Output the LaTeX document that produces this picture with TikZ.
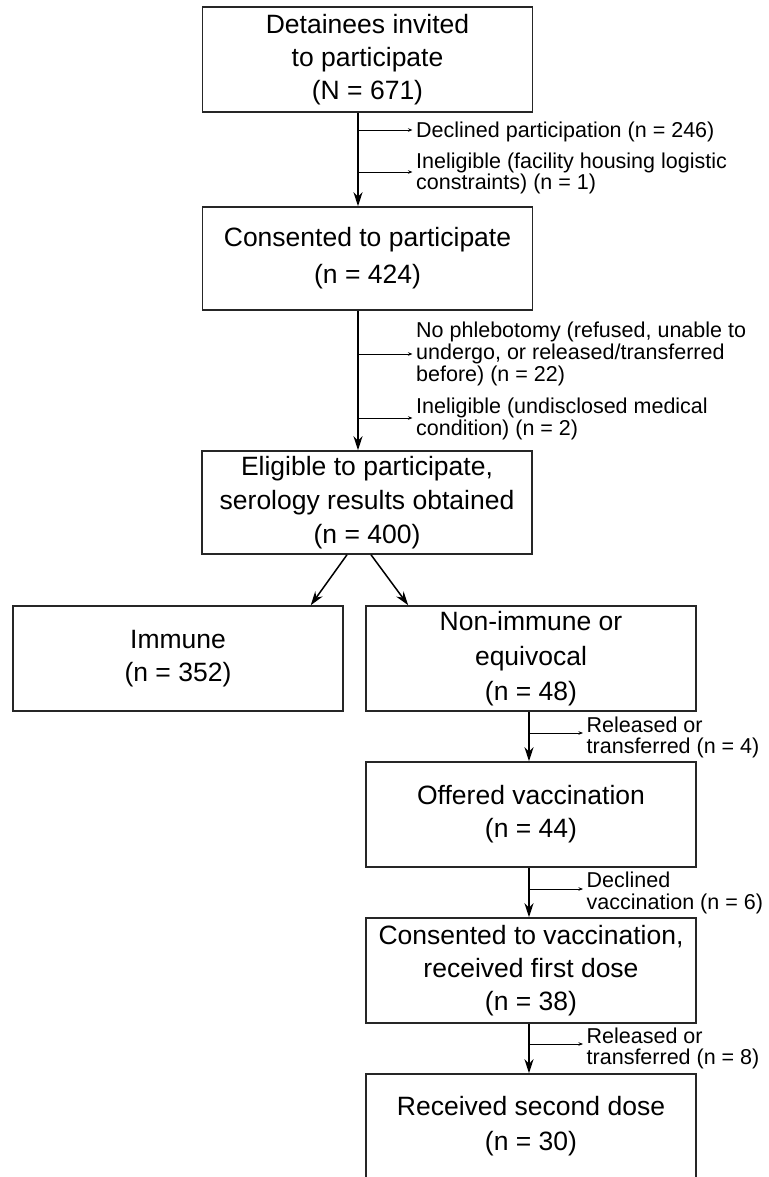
\documentclass[tikz,border=0pt]{standalone}
\usepackage{fontspec}
\setmainfont{Liberation Sans}
\usetikzlibrary{arrows.meta}

\tikzset{
  box/.style={draw=black!85, line width=1.5pt, minimum width=330pt,
    minimum height=105pt, inner sep=0pt, align=center,
    font=\fontsize{26.5}{33}\selectfont},
  note/.style={anchor=north west, inner sep=0pt, align=left,
    font=\fontsize{21.5}{21.5}\selectfont},
  trunk/.style={line width=1.5pt, -{Stealth[length=14pt,width=9pt,inset=4.5pt]}},
  branch/.style={line width=0.9pt, -{Stealth[length=4.5pt,width=3.5pt]}, shorten >=3.5pt},
}

\begin{document}
\begin{tikzpicture}[x=1pt,y=-1pt]
\clip (0,0) rectangle (768,1177);

% boxes
\node[box] (invited) at (367.5,59.5) {Detainees invited\\to participate\\(N = 671)};
\node[box, minimum height=103pt, font=\fontsize{26.5}{37}\selectfont] (consented) at (367.5,258.5) {Consented to participate\\(n = 424)};
\node[box, minimum height=103pt, font=\fontsize{26.5}{34}\selectfont] (eligible) at (367,502.5) {Eligible to participate,\\serology results obtained\\(n = 400)};
\node[box] (immune) at (178,658.5) {Immune\\(n = 352)};
\node[box, font=\fontsize{26.5}{35}\selectfont] (nonimmune) at (531,658.5) {Non-immune or\\equivocal\\(n = 48)};
\node[box] (offered) at (531,814.5) {Offered vaccination\\(n = 44)};
\node[box] (firstdose) at (531,970.5) {Consented to vaccination,\\received first dose\\(n = 38)};
\node[box, font=\fontsize{26.5}{35}\selectfont] (seconddose) at (531,1126.5) {Received second dose\\(n = 30)};

% exclusion notes
\node[note] (declined) at (416,121.5) {Declined participation (n = 246)};
\node[note] (facility) at (416,152.5) {Ineligible (facility housing logistic\\constraints) (n = 1)};
\node[note, font=\fontsize{21.5}{22}\selectfont] (phlebotomy) at (416,321.5) {No phlebotomy (refused, unable to\\undergo, or released/transferred\\before) (n = 22)};
\node[note, font=\fontsize{21.5}{22}\selectfont] (medical) at (416,397.5) {Ineligible (undisclosed medical\\condition) (n = 2)};
\node[note] (releasedA) at (586.5,716.5) {Released or\\transferred (n = 4)};
\node[note, font=\fontsize{21.5}{22.5}\selectfont] (declinedvac) at (586.5,871.5) {Declined\\vaccination (n = 6)};
\node[note] (releasedB) at (586.5,1027.5) {Released or\\transferred (n = 8)};

% trunk lines
\coordinate (upperx) at (358,0);
\coordinate (lowerx) at (529,0);
\draw[trunk] (invited.south -| upperx) -- (consented.north -| upperx);
\draw[trunk] (consented.south -| upperx) -- (eligible.north -| upperx);
\draw[trunk] ([xshift=-20pt]eligible.south) -- ([xshift=-33pt]immune.north east);
\draw[trunk] ([xshift=4pt]eligible.south) -- ([xshift=43pt]nonimmune.north west);
\draw[trunk] (nonimmune.south -| lowerx) -- (offered.north -| lowerx);
\draw[trunk] (offered.south -| lowerx) -- (firstdose.north -| lowerx);
\draw[trunk] (firstdose.south -| lowerx) -- (seconddose.north -| lowerx);

% side branches
\coordinate (b1) at (358,130);
\coordinate (b2) at (358,172);
\coordinate (b3) at (358,354);
\coordinate (b4) at (358,418);
\coordinate (b5) at (529,733);
\coordinate (b6) at (529,889);
\coordinate (b7) at (529,1044);
\draw[branch] (b1) -- (b1 -| declined.west);
\draw[branch] (b2) -- (b2 -| facility.west);
\draw[branch] (b3) -- (b3 -| phlebotomy.west);
\draw[branch] (b4) -- (b4 -| medical.west);
\draw[branch] (b5) -- (b5 -| releasedA.west);
\draw[branch] (b6) -- (b6 -| declinedvac.west);
\draw[branch] (b7) -- (b7 -| releasedB.west);

\end{tikzpicture}
\end{document}
